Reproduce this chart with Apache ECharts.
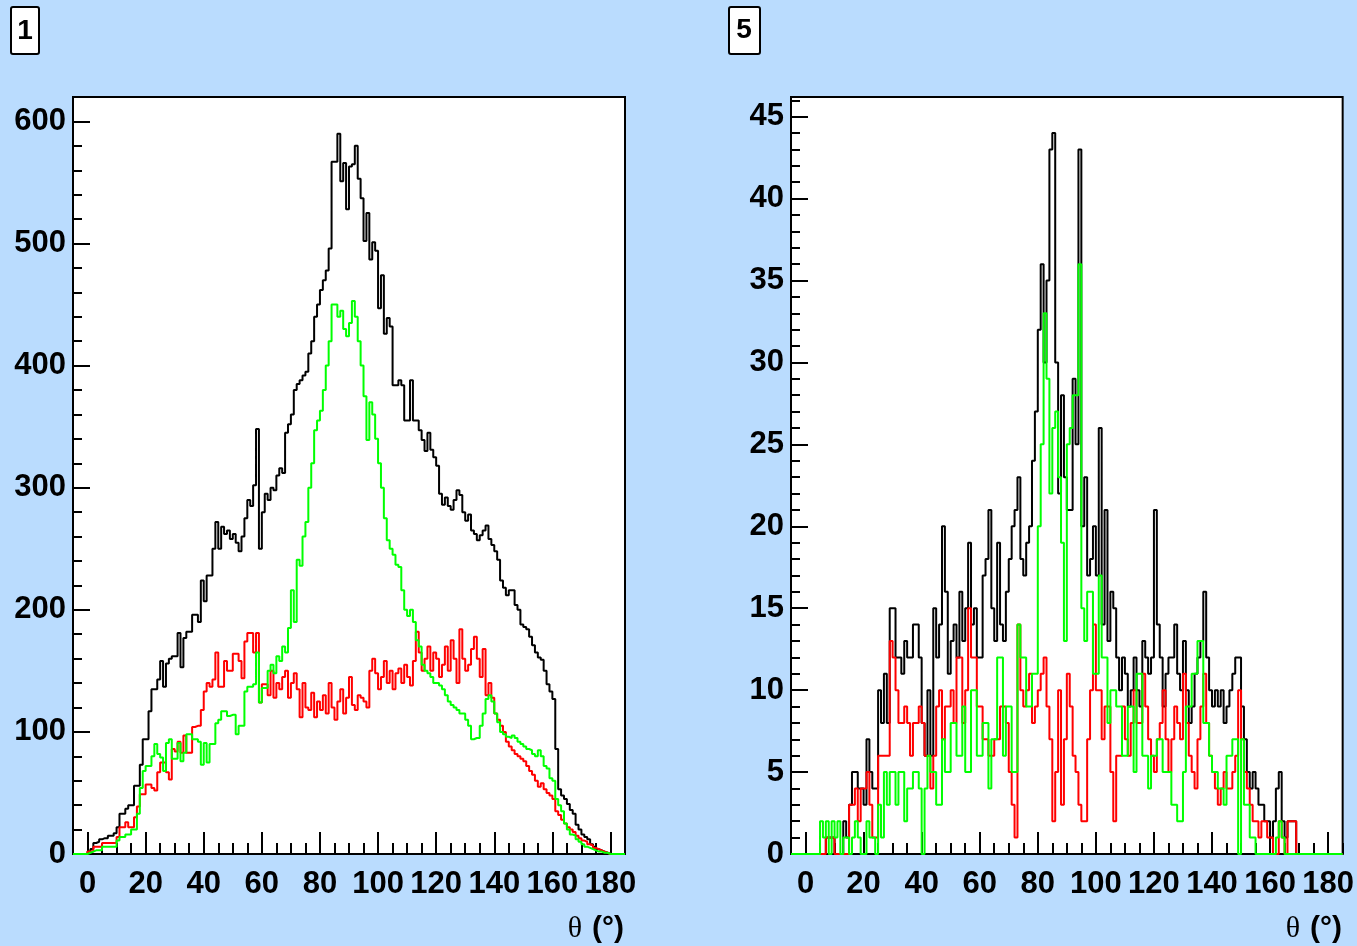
<!DOCTYPE html>
<html><head><meta charset="utf-8">
<script src="https://cdn.jsdelivr.net/npm/echarts@6/dist/echarts.min.js"></script>
<style>html,body{margin:0;padding:0;background:#badcfe;}#c{width:1357px;height:946px;}</style>
</head><body><div id="c"></div>
<script>
// histogram binning: bins start at -5, width 1 degree
const BIN_LOW = -5, BIN_WIDTH = 1;
const PAD = [0,0,0,0,0];

const xMajorTicks = [0,20,40,60,80,100,120,140,160,180];
const xMinorTicks = [-5,0,5,10,15,20,25,30,35,40,45,50,55,60,65,70,75,80,85,90,95,100,105,110,115,120,125,130,135,140,145,150,155,160,165,170,175,180,185];
const yLeftMajor = [0,100,200,300,400,500,600];
const yLeftMinor = [0,20,40,60,80,100,120,140,160,180,200,220,240,260,280,300,320,340,360,380,400,420,440,460,480,500,520,540,560,580,600];
const yRightMajor = [0,5,10,15,20,25,30,35,40,45];
const yRightMinor = [0,1,2,3,4,5,6,7,8,9,10,11,12,13,14,15,16,17,18,19,20,21,22,23,24,25,26,27,28,29,30,31,32,33,34,35,36,37,38,39,40,41,42,43,44,45,46];

// Panel 1 (degrees 0..179)
const leftBlack = [2,4,9,10,12,13,13,15,15,17,
22,33,33,37,40,40,56,56,73,94,
94,117,135,135,143,158,137,156,160,162,
162,181,153,177,182,182,196,196,190,224,
207,228,228,250,272,250,268,262,265,258,
262,255,248,260,275,290,285,302,348,250,
280,295,290,300,298,310,316,312,345,352,
360,380,385,388,392,395,410,420,440,450,
462,470,478,496,567,567,590,551,566,528,
563,565,580,553,537,502,525,487,501,494,
447,474,426,439,432,384,384,388,384,355,
355,388,355,355,347,339,330,345,331,325,
318,295,286,292,285,282,290,298,294,280,
273,278,265,262,257,261,265,269,258,253,
248,241,224,218,212,216,216,204,200,188,
186,184,178,171,165,161,159,150,139,133,
127,86,53,48,45,41,36,33,24,20,
16,14,12,8,6,4,3,2,1,0];
const leftRed = [2,2,6,6,6,9,9,9,9,9,
14,22,22,26,22,22,30,39,49,49,
57,57,54,52,67,75,75,67,61,86,
84,92,83,97,83,83,104,105,105,118,
133,140,137,143,165,137,137,158,150,150,
164,164,158,144,174,181,181,165,181,124,
139,139,130,150,128,140,135,145,150,128,
140,148,135,112,140,120,118,132,112,125,
118,130,115,140,120,110,125,135,115,128,
145,122,118,130,128,125,120,150,160,148,
135,145,158,140,150,135,148,152,140,155,
145,138,158,182,165,150,160,170,150,165,
160,145,155,170,150,175,160,140,184,160,
150,155,168,178,160,145,168,130,140,128,
115,110,105,100,92,88,85,82,80,78,
76,72,68,65,60,55,58,53,50,48,
45,35,32,28,25,22,20,18,15,13,
11,10,8,7,5,4,3,2,1,0];
const leftGreen = [1,2,3,3,3,6,6,6,6,6,
11,14,14,16,16,20,20,33,54,68,
72,72,80,90,82,79,68,91,94,78,
78,91,76,83,98,98,94,94,92,73,
91,75,90,90,107,110,117,117,113,114,
114,98,105,105,133,137,137,139,165,124,
136,136,150,155,148,162,158,170,165,185,
216,190,241,236,260,272,300,320,347,355,
363,380,400,420,450,450,440,445,430,424,
435,453,440,420,400,375,339,370,360,340,
320,300,275,257,250,245,237,235,216,200,
195,200,190,175,170,155,150,148,145,140,
140,138,135,130,125,122,120,118,115,115,
110,105,94,95,95,105,115,127,130,125,
115,108,100,98,96,95,97,95,92,90,
88,86,85,82,80,85,80,72,70,62,
60,45,40,35,25,20,16,15,12,10,
8,6,5,4,3,2,2,1,1,0];

// Panel 5 (degrees 0..179)
const rightBlack = [0,0,0,0,0,0,0,1,1,1,
0,0,0,2,1,3,5,5,4,4,
3,7,5,4,4,10,8,11,8,15,
15,12,12,11,13,12,12,14,14,12,
8,6,10,6,15,12,14,20,16,11,
13,14,12,16,13,15,19,14,15,12,
12,17,18,21,15,13,19,14,13,16,
18,20,21,23,18,17,19,20,24,27,
32,36,30,35,43,44,30,22,28,23,
21,21,29,25,43,20,23,17,18,20,
17,26,14,21,13,16,15,12,10,12,
11,9,10,12,10,9,13,12,11,12,
21,14,12,9,11,12,12,14,11,10,
13,10,8,9,11,12,13,16,12,10,
9,10,9,10,8,9,10,11,12,12,
9,7,5,4,5,4,3,3,2,2,
1,2,4,5,2,1,2,2,2,0,
0,0,0,0,0,0,0,0,0,0];
const rightRed = [0,0,0,0,0,0,0,1,1,1,
0,0,0,0,0,3,3,4,2,4,
4,5,3,1,1,6,6,6,6,13,
12,10,8,8,9,8,6,8,8,9,
8,6,6,4,6,9,10,7,9,9,
10,8,12,12,8,10,15,12,12,9,
9,7,7,6,6,7,7,9,9,8,
5,3,1,14,10,9,10,11,8,9,
10,11,12,9,7,2,5,10,3,7,
11,9,6,5,3,2,2,7,10,14,
10,10,7,9,9,5,2,6,6,9,
7,6,8,10,8,8,11,9,7,6,
5,7,8,10,7,5,7,9,8,7,
11,8,6,5,4,7,9,11,8,6,
5,4,3,4,5,4,4,5,6,10,
7,5,4,3,2,2,1,2,2,1,
1,0,0,2,1,0,2,2,2,0,
0,0,0,0,0,0,0,0,0,0];
const rightGreen = [0,0,0,0,0,2,1,2,0,2,
1,2,0,1,1,0,1,2,1,0,
0,2,1,1,0,3,1,5,3,5,
5,3,5,5,2,4,4,5,5,4,
0,4,6,5,5,3,3,7,5,5,
8,8,6,6,9,5,5,10,10,6,
6,8,8,4,7,7,12,12,6,9,
9,5,5,14,12,12,9,9,11,11,
20,25,33,29,22,26,27,23,19,13,
25,26,28,28,36,15,13,16,16,11,
11,17,12,12,8,10,10,9,9,6,
6,9,9,5,11,11,6,6,4,6,
6,7,7,5,5,5,3,3,2,2,
5,9,9,11,11,13,13,8,8,6,
5,5,4,4,3,6,6,7,7,0,
7,3,3,1,1,0,0,0,0,0,
0,0,1,2,1,0,0,0,0,0,
0,0,0,0,0,0,0,0,0,0];

const Y_MAX_LEFT = 620, Y_MAX_RIGHT = 46.2;
const X_MIN = -5, X_MAX = 185;

function hist(vals){
  const full = PAD.concat(vals, PAD);
  const pts = [];
  for (let i = 0; i < full.length; i++) pts.push([BIN_LOW + i*BIN_WIDTH, full[i]]);
  pts.push([BIN_LOW + full.length*BIN_WIDTH, full[full.length-1]]);
  return pts;
}

const FONT = 'Liberation Sans';
const lblStyle = {color:'#000', fontFamily:FONT, fontWeight:'bold', fontSize:31};

function xAxes(grid){
  return [
    {type:'value', gridIndex:grid, position:'bottom', min:X_MIN, max:X_MAX,
     axisLine:{show:true, onZero:false, lineStyle:{color:'#000', width:2}},
     axisTick:{show:true, inside:true, length:22, customValues:xMajorTicks, lineStyle:{color:'#000', width:2}},
     axisLabel:Object.assign({show:true, margin:15, customValues:xMajorTicks}, lblStyle),
     splitLine:{show:false}},
    {type:'value', gridIndex:grid, position:'bottom', min:X_MIN, max:X_MAX,
     axisLine:{show:false, onZero:false},
     axisTick:{show:true, inside:true, length:11, customValues:xMinorTicks, lineStyle:{color:'#000', width:2}},
     axisLabel:{show:false}, splitLine:{show:false}}
  ];
}
function yAxes(grid, max, major, minor){
  return [
    {type:'value', gridIndex:grid, position:'left', min:0, max:max,
     axisLine:{show:true, onZero:false, lineStyle:{color:'#000', width:2}},
     axisTick:{show:true, inside:true, length:17, customValues:major, lineStyle:{color:'#000', width:2}},
     axisLabel:Object.assign({show:true, margin:7, customValues:major}, lblStyle),
     splitLine:{show:false}},
    {type:'value', gridIndex:grid, position:'left', min:0, max:max,
     axisLine:{show:false, onZero:false},
     axisTick:{show:true, inside:true, length:9, customValues:minor, lineStyle:{color:'#000', width:2}},
     axisLabel:{show:false}, splitLine:{show:false}}
  ];
}
function ser(vals, color, xi, yi){
  return {type:'line', step:'end', data:hist(vals), xAxisIndex:xi, yAxisIndex:yi,
    symbol:'none', showSymbol:false, silent:true, animation:false, clip:true,
    lineStyle:{color:color, width:2}, itemStyle:{color:color}};
}

const chart = echarts.init(document.getElementById('c'), null, {renderer:'canvas'});
chart.setOption({
  backgroundColor:'#badcfe',
  animation:false,
  grid:[
    {left:73, top:97, width:552, height:757, show:true, backgroundColor:'#fff', borderColor:'#000', borderWidth:2},
    {left:791, top:97, width:552, height:757, show:true, backgroundColor:'#fff', borderColor:'#000', borderWidth:2}
  ],
  xAxis: xAxes(0).concat(xAxes(1)),
  yAxis: yAxes(0, Y_MAX_LEFT, yLeftMajor, yLeftMinor).concat(yAxes(1, Y_MAX_RIGHT, yRightMajor, yRightMinor)),
  series:[
    ser(leftBlack,'#000',0,0), ser(leftRed,'#ff0000',0,0), ser(leftGreen,'#00ff00',0,0),
    ser(rightBlack,'#000',2,2), ser(rightRed,'#ff0000',2,2), ser(rightGreen,'#00ff00',2,2)
  ],
  graphic:[
    {type:'rect', shape:{x:11, y:7, width:28, height:47, r:2}, style:{fill:'#fff', stroke:'#000', lineWidth:2}},
    {type:'text', style:{text:'1', x:25, y:31, align:'center', verticalAlign:'middle', font:'bold 28px "Liberation Sans"', fill:'#000'}},
    {type:'rect', shape:{x:729, y:7, width:31, height:47, r:2}, style:{fill:'#fff', stroke:'#000', lineWidth:2}},
    {type:'text', style:{text:'5', x:744, y:30, align:'center', verticalAlign:'middle', font:'bold 28px "Liberation Sans"', fill:'#000'}},
    {type:'text', style:{text:'(°)', x:624, y:929, align:'right', verticalAlign:'middle', font:'bold 30px "Liberation Sans"', fill:'#000'}},
    {type:'text', style:{text:'θ', x:582, y:929, align:'right', verticalAlign:'middle', font:'30px "Liberation Serif"', fill:'#000'}},
    {type:'text', style:{text:'(°)', x:1342, y:929, align:'right', verticalAlign:'middle', font:'bold 30px "Liberation Sans"', fill:'#000'}},
    {type:'text', style:{text:'θ', x:1300, y:929, align:'right', verticalAlign:'middle', font:'30px "Liberation Serif"', fill:'#000'}}
  ]
});
</script></body></html>
